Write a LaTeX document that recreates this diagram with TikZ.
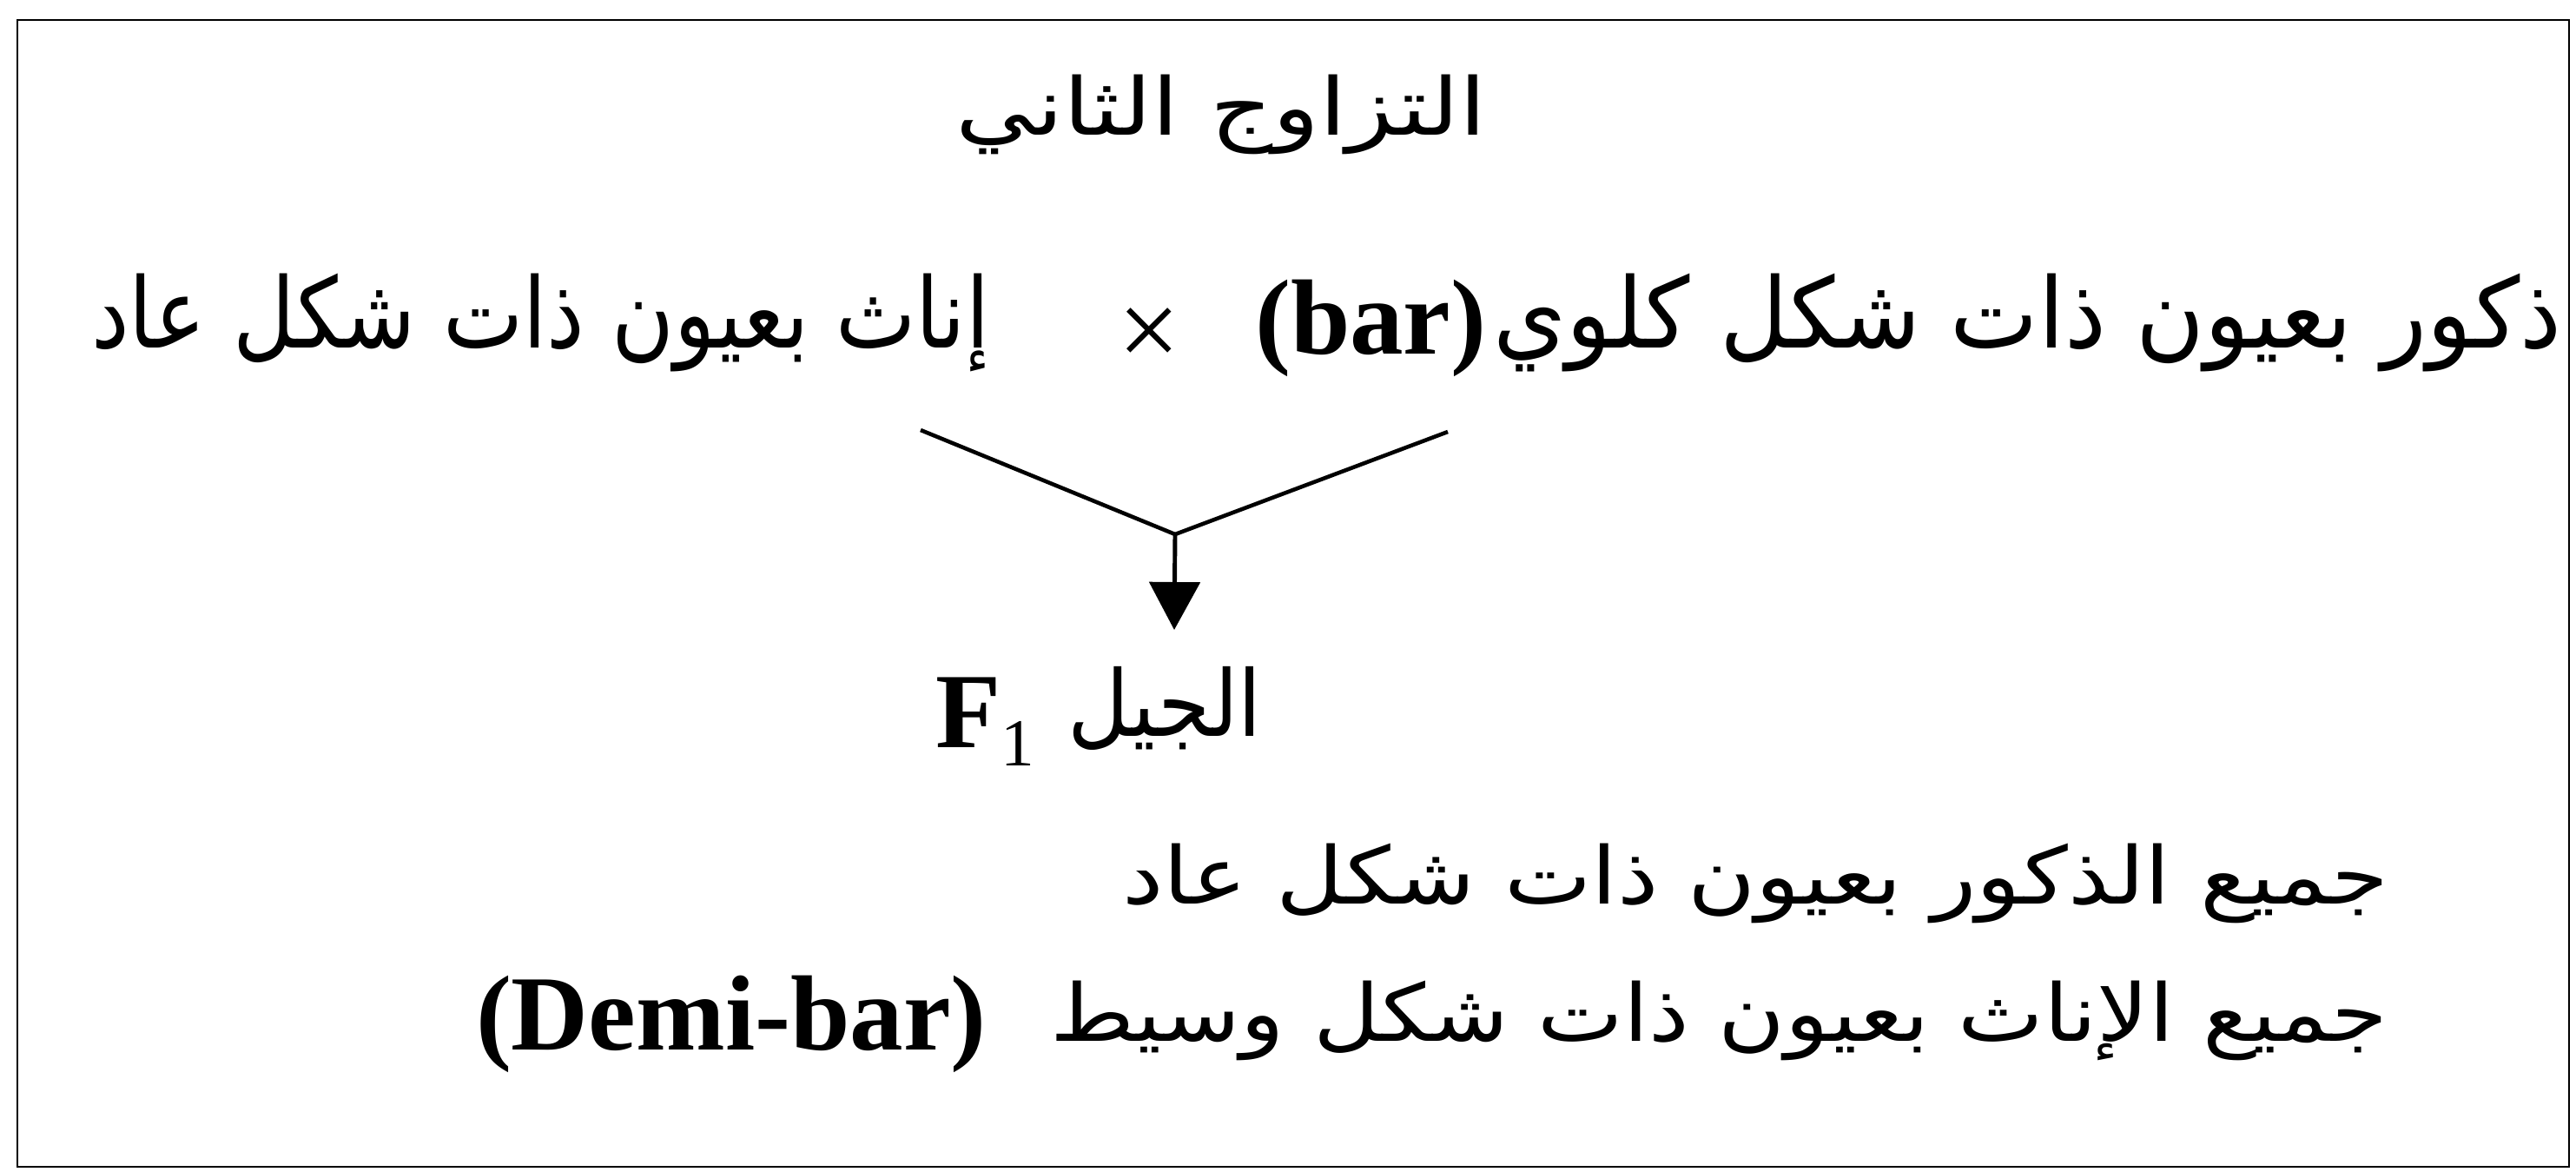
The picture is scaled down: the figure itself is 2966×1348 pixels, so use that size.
\documentclass[tikz,border=0pt]{standalone}
\usepackage{fontspec}
\usepackage{graphicx}
\setmainfont{Liberation Serif}
\newfontfamily\arabicfont[Script=Arabic]{DejaVu Sans}
\usetikzlibrary{arrows.meta}
\TeXXeTstate=1
\newcommand\ARtxt[3]{\resizebox{#1}{\height}{\fontsize{#2}{#2}\selectfont\arabicfont #3}}
\begin{document}
\begin{tikzpicture}[x=0.01cm,y=-0.01cm,
  txt/.style={inner sep=0pt,outer sep=0pt},
  lat/.style={txt,font=\fontsize{35}{35}\selectfont\bfseries},
  vline/.style={line width=1.3pt},
  frame/.style={line width=0.8pt}]
\useasboundingbox (0,0) rectangle (2966,1348);
\coordinate (fTL) at (20,23);
\coordinate (fBR) at (2958,1343);
\draw[frame] (fTL) rectangle (fBR);
% title
\node[txt,anchor=base west] (title) at (1100,155) {\ARtxt{6.11cm}{26}{\beginR التزاوج الثاني\endR}};
% parents line
\node[txt,anchor=base east] (male) at (2950,400) {\ARtxt{12.3cm}{32}{\beginR ذكور بعيون ذات شكل كلوي\endR}};
\node[lat,anchor=base west] (bar) at (1445,407) {(bar)};
\node[txt,font=\fontsize{36}{36}\selectfont] (cross) at (1323,389) {×};
\node[txt,anchor=base west] (female) at (105,400) {\ARtxt{10.34cm}{32}{\beginR إناث بعيون ذات شكل عاد\endR}};
% cross lines
\coordinate (l) at (1060,495);
\coordinate (r) at (1667,497);
\coordinate (v) at (1353,615);
\coordinate (tip) at (1352,725);
\draw[vline] (l) -- (v) -- (r);
\draw[line width=1.4pt,-{Triangle[width=0.58cm,length=0.55cm]}] (v) -- (tip);
% F1
\node[txt,anchor=base east] (gen) at (1453,847) {\ARtxt{2.23cm}{30}{\beginR الجيل\endR}};
\node[txt,anchor=base west,font=\fontsize{35}{35}\selectfont] (fone) at (1077,860) {\textbf{F}\raisebox{-6pt}{\fontsize{22}{22}\selectfont 1}};
% offspring
\node[txt,anchor=base east] (males) at (2750,1040) {\ARtxt{14.57cm}{26}{\beginR جميع الذكور بعيون ذات شكل عاد\endR}};
\node[txt,anchor=base east] (females) at (2750,1198) {\ARtxt{15.4cm}{26}{\beginR جميع الإناث بعيون ذات شكل وسيط\endR}};
\node[lat,anchor=base west] (demi) at (548,1208) {(Demi-bar)};
\end{tikzpicture}
\end{document}
